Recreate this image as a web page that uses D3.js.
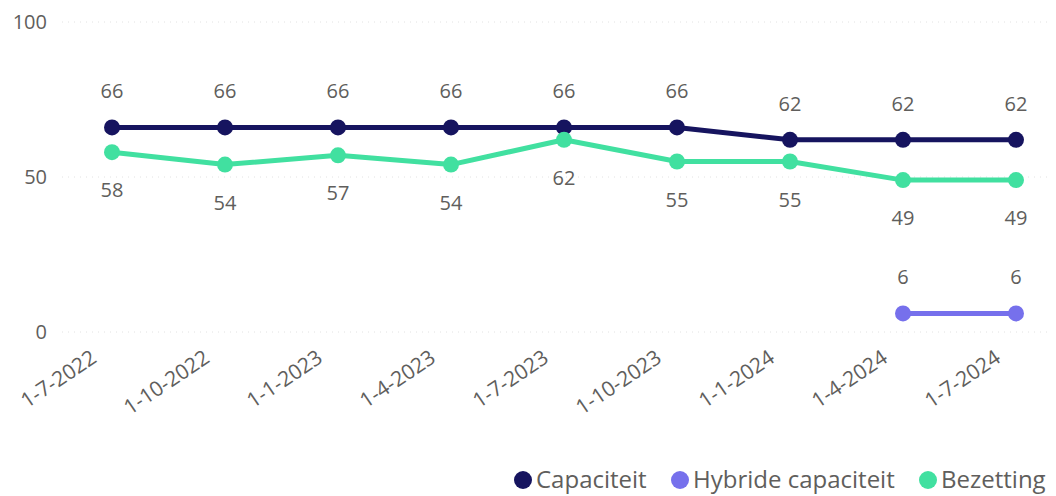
<!DOCTYPE html>
<html>
<head>
<meta charset="utf-8">
<script src="https://cdn.jsdelivr.net/npm/d3@7.9.0/dist/d3.min.js"></script>
<style>
  html, body { margin: 0; padding: 0; background: #fff; }
  svg { display: block; font-family: "Open Sans", "Noto Sans", sans-serif; }
</style>
</head>
<body>
<svg id="chart" width="1056" height="496"></svg>
<script>
const dates = ['1-7-2022', '1-10-2022', '1-1-2023', '1-4-2023', '1-7-2023',
  '1-10-2023', '1-1-2024', '1-4-2024', '1-7-2024'];
const capaciteit = [66, 66, 66, 66, 66, 66, 62, 62, 62];
const hybrideCapaciteit = [null, null, null, null, null, null, null, 6, 6];
const bezetting = [58, 54, 57, 54, 62, 55, 55, 49, 49];
const yTicks = [0, 50, 100];

const series = [
  { name: 'Capaciteit', values: capaciteit, color: '#16145f', labelPos: 'above' },
  { name: 'Hybride capaciteit', values: hybrideCapaciteit, color: '#7670ec', labelPos: 'above' },
  { name: 'Bezetting', values: bezetting, color: '#41e0a0', labelPos: 'below' }
];

const svg = d3.select('#chart');
const textColor = '#605e5c';

const x = d3.scalePoint().domain(dates).range([112, 1016]);
const y = d3.scaleLinear().domain([0, 100]).range([332, 22]);

// gridlines, very faint
svg.append('g')
  .selectAll('line')
  .data(yTicks)
  .join('line')
  .attr('x1', 62).attr('x2', 1050)
  .attr('y1', (d) => y(d)).attr('y2', (d) => y(d))
  .attr('stroke', '#e2e2e2')
  .attr('stroke-width', 1)
  .attr('stroke-dasharray', '1,5');

// y axis labels
svg.append('g')
  .selectAll('text')
  .data(yTicks)
  .join('text')
  .attr('x', 47)
  .attr('y', (d) => y(d))
  .attr('dy', '0.35em')
  .attr('text-anchor', 'end')
  .attr('fill', textColor)
  .attr('font-size', 20)
  .text((d) => d);

// x axis labels
svg.append('g')
  .selectAll('text')
  .data(dates)
  .join('text')
  .attr('transform', (d) => `translate(${x(d) - 14},${361}) rotate(-34)`)
  .attr('text-anchor', 'end')
  .attr('fill', textColor)
  .attr('font-size', 21)
  .text((d) => d);

const line = d3.line()
  .defined((d) => d.v !== null)
  .x((d) => x(d.date))
  .y((d) => y(d.v));

series.forEach((s) => {
  let pts = dates.map((date, i) => ({ date, v: s.values[i] }));
  let g = svg.append('g');

  g.append('path')
    .datum(pts)
    .attr('d', line)
    .attr('fill', 'none')
    .attr('stroke', s.color)
    .attr('stroke-width', 5)
    .attr('stroke-linejoin', 'round');

  let valid = pts.filter((d) => d.v !== null);

  g.selectAll('circle')
    .data(valid)
    .join('circle')
    .attr('cx', (d) => x(d.date))
    .attr('cy', (d) => y(d.v))
    .attr('r', 8)
    .attr('fill', s.color);

  g.selectAll('text')
    .data(valid)
    .join('text')
    .attr('x', (d) => x(d.date))
    .attr('y', (d) => s.labelPos === 'above' ? y(d.v) - 36 : y(d.v) + 38)
    .attr('dy', '0.35em')
    .attr('text-anchor', 'middle')
    .attr('fill', textColor)
    .attr('font-size', 20)
    .text((d) => d.v);
});

// legend
const legendX = [523, 680, 928];
const legend = svg.append('g');
series.forEach((s, i) => {
  legend.append('circle')
    .attr('cx', legendX[i])
    .attr('cy', 480)
    .attr('r', 9)
    .attr('fill', s.color);
  legend.append('text')
    .attr('x', legendX[i] + 13)
    .attr('y', 480)
    .attr('dy', '0.35em')
    .attr('fill', textColor)
    .attr('font-size', 24)
    .text(s.name);
});
</script>
</body>
</html>
